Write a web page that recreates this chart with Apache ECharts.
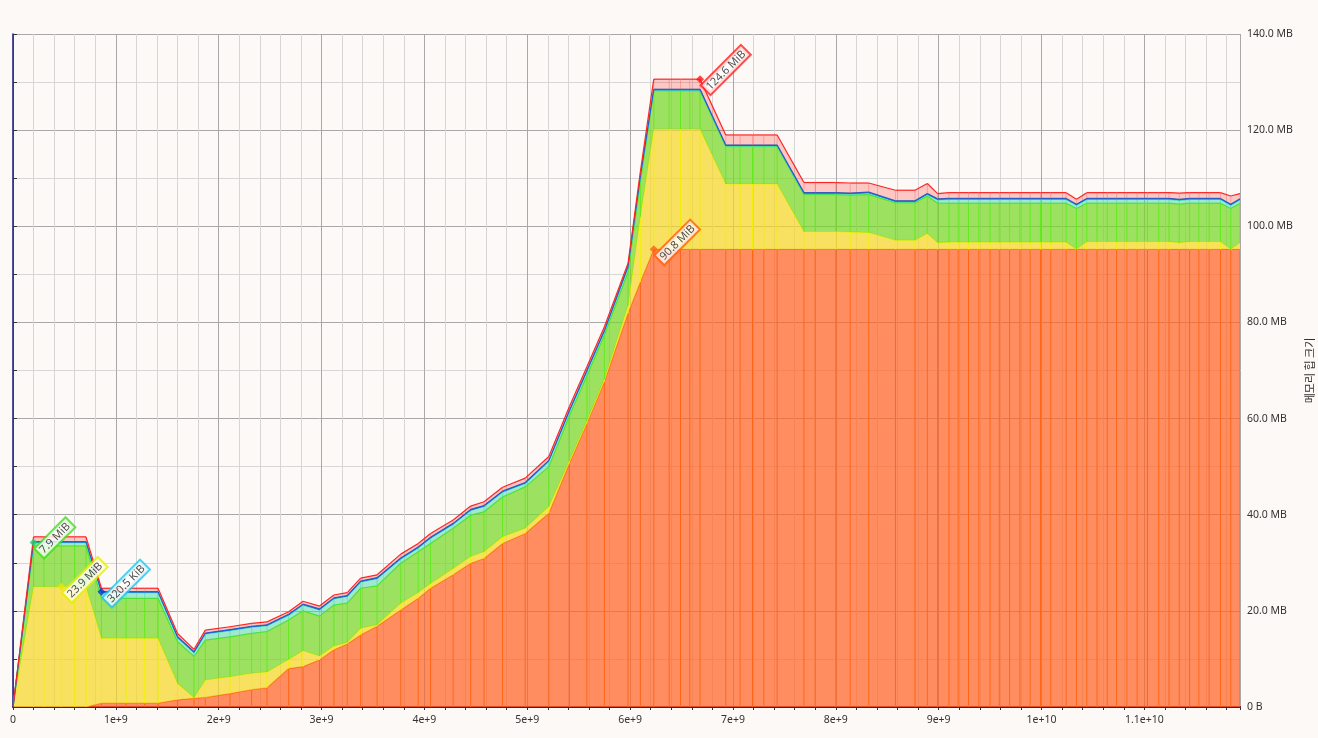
<!DOCTYPE html>
<html lang="ko">
<head>
<meta charset="UTF-8">
<title>메모리 힙 크기</title>
<script src="https://cdn.jsdelivr.net/npm/echarts@6/dist/echarts.min.js"></script>
<style>
  html, body { margin: 0; padding: 0; background: #fdf9f6; }
  #chartmain { width: 1318px; height: 738px; }
</style>
</head>
<body>
<div id="chartmain"></div>
<script>
// snapshot times (unit: 1e9 instructions)
var snapTimes = [0, 0.20, 0.30, 0.47, 0.60, 0.71, 0.86, 1.10, 1.28, 1.41,
    1.60, 1.76, 1.87, 2.11, 2.32, 2.47, 2.68, 2.82, 2.98, 3.12,
    3.25, 3.38, 3.54, 3.77, 3.94, 4.06, 4.28, 4.45, 4.58, 4.76,
    4.98, 5.21, 5.41, 5.58, 5.75, 5.98, 6.10, 6.23, 6.38, 6.49,
    6.58, 6.68, 6.93, 7.07, 7.19, 7.30, 7.43, 7.69, 7.80, 8.00,
    8.14, 8.32, 8.58, 8.77, 8.89, 8.99, 9.10, 9.19, 9.29, 9.39,
    9.50, 9.59, 9.69, 9.79, 9.89, 9.99, 10.09, 10.24, 10.34, 10.44,
    10.54, 10.64, 10.73, 10.83, 10.93, 11.03, 11.14, 11.24, 11.34, 11.44,
    11.53, 11.63, 11.74, 11.84, 11.93];

// heap size of each cost item per snapshot (MB), bottom to top
var orangeVals = [0, 0, 0, 0, 0, 0, 0.8, 0.8, 0.8, 0.8,
    1.5, 1.8, 2.0, 2.8, 3.6, 4.0, 8.0, 8.4, 9.8, 11.9,
    13.1, 15.0, 16.8, 20.2, 22.6, 24.7, 27.5, 29.9, 30.9, 34.0,
    36.1, 40.3, 50.7, 59.0, 67.7, 81.9, 88.4, 95.2, 95.2, 95.2,
    95.2, 95.2, 95.2, 95.2, 95.2, 95.2, 95.2, 95.2, 95.2, 95.2,
    95.2, 95.2, 95.2, 95.2, 95.2, 95.2, 95.2, 95.2, 95.2, 95.2,
    95.2, 95.2, 95.2, 95.2, 95.2, 95.2, 95.2, 95.2, 95.2, 95.2,
    95.2, 95.2, 95.2, 95.2, 95.2, 95.2, 95.2, 95.2, 95.2, 95.2,
    95.2, 95.2, 95.2, 95.2, 95.2];
var yellowVals = [0, 25.0, 25.0, 25.0, 25.0, 25.0, 13.5, 13.5, 13.5, 13.5,
    3.4, 0.1, 3.6, 3.5, 3.4, 3.3, 1.9, 3.3, 0.8, 0.8,
    0.3, 1.4, 0.3, 1.4, 1.2, 1.0, 1.3, 1.4, 1.4, 1.4,
    1.1, 1.4, 0.5, 0.5, 0.5, 1.6, 13.6, 25.0, 25.0, 25.0,
    25.0, 25.0, 13.6, 13.6, 13.6, 13.6, 13.6, 3.7, 3.7, 3.7,
    3.6, 3.5, 1.9, 1.9, 3.3, 1.4, 1.5, 1.5, 1.5, 1.5,
    1.5, 1.5, 1.5, 1.5, 1.5, 1.5, 1.5, 1.5, 0, 1.6,
    1.6, 1.6, 1.6, 1.6, 1.6, 1.6, 1.6, 1.6, 1.4, 1.6,
    1.6, 1.6, 1.6, 0, 1.4];
var greenVals = [0, 8.5, 8.5, 8.5, 8.5, 8.5, 8.3, 8.3, 8.3, 8.3,
    8.7, 8.6, 8.3, 8.3, 8.3, 8.4, 8.2, 8.3, 8.3, 8.5,
    8.2, 8.3, 8.1, 8.3, 8.5, 8.3, 8.4, 8.6, 8.3, 8.3,
    8.6, 8.3, 9.4, 9.4, 9.2, 7.0, 7.5, 8.0, 8.0, 8.0,
    8.0, 8.0, 7.8, 7.8, 7.8, 7.8, 7.8, 7.7, 7.7, 7.7,
    7.7, 7.9, 7.8, 7.8, 7.8, 8.2, 8.1, 8.1, 8.1, 8.1,
    8.1, 8.1, 8.1, 8.1, 8.1, 8.1, 8.1, 8.1, 8.5, 8.0,
    8.0, 8.0, 8.0, 8.0, 8.0, 8.0, 8.0, 8.0, 8.0, 8.0,
    8.0, 8.0, 8.0, 8.5, 8.2];
var cyanVals = [0, 0.7, 0.7, 0.7, 0.7, 0.7, 1.2, 1.2, 1.2, 1.2,
    0.8, 0.8, 1.3, 1.3, 1.3, 1.2, 1.0, 1.2, 1.3, 1.3,
    1.4, 1.3, 1.5, 0.9, 0.8, 1.1, 0.8, 1.0, 1.1, 1.0,
    0.7, 1.1, 0.9, 0.9, 0.7, 1.0, 0.8, 0.1, 0.1, 0.1,
    0.1, 0.1, 0.1, 0.1, 0.1, 0.1, 0.1, 0.2, 0.2, 0.2,
    0.2, 0.3, 0.2, 0.2, 0.3, 0.7, 0.8, 0.8, 0.8, 0.8,
    0.8, 0.8, 0.8, 0.8, 0.8, 0.8, 0.8, 0.8, 0.7, 0.8,
    0.8, 0.8, 0.8, 0.8, 0.8, 0.8, 0.8, 0.8, 0.8, 0.8,
    0.8, 0.8, 0.8, 0.7, 0.7];
var blueVals = [0, 0.2, 0.2, 0.2, 0.2, 0.2, 0.2, 0.2, 0.2, 0.2,
    0.2, 0.2, 0.2, 0.2, 0.2, 0.2, 0.2, 0.2, 0.2, 0.2,
    0.2, 0.2, 0.2, 0.2, 0.2, 0.2, 0.2, 0.2, 0.2, 0.2,
    0.2, 0.2, 0.2, 0.2, 0.2, 0.2, 0.2, 0.2, 0.2, 0.2,
    0.2, 0.2, 0.2, 0.2, 0.2, 0.2, 0.2, 0.2, 0.2, 0.2,
    0.2, 0.2, 0.2, 0.2, 0.2, 0.2, 0.2, 0.2, 0.2, 0.2,
    0.2, 0.2, 0.2, 0.2, 0.2, 0.2, 0.2, 0.2, 0.2, 0.2,
    0.2, 0.2, 0.2, 0.2, 0.2, 0.2, 0.2, 0.2, 0.2, 0.2,
    0.2, 0.2, 0.2, 0.2, 0.2];
var redVals = [0, 1.0, 1.0, 1.0, 1.0, 1.0, 0.7, 0.7, 0.7, 0.7,
    0.7, 0.5, 0.6, 0.6, 0.6, 0.6, 0.5, 0.6, 0.6, 0.6,
    0.6, 0.6, 0.6, 0.8, 0.7, 0.8, 0.7, 0.7, 0.8, 0.8,
    0.9, 0.8, 0.8, 0.8, 0.8, 0.6, 0.9, 2.1, 2.1, 2.1,
    2.1, 2.1, 2.1, 2.1, 2.1, 2.1, 2.1, 2.1, 2.1, 2.1,
    2.1, 1.9, 2.2, 2.2, 2.1, 1.1, 1.2, 1.2, 1.2, 1.2,
    1.2, 1.2, 1.2, 1.2, 1.2, 1.2, 1.2, 1.2, 1.0, 1.2,
    1.2, 1.2, 1.2, 1.2, 1.2, 1.2, 1.2, 1.2, 1.3, 1.2,
    1.2, 1.2, 1.2, 1.7, 1.1];

// peak markers: [time, stacked height, text]
var peakLabels = [
    [0.20, 34.2, '7.9 MiB'],
    [0.47, 25.0, '23.9 MiB'],
    [0.86, 24.0, '320.5 KiB'],
    [6.23, 95.2, '90.8 MiB'],
    [6.68, 130.6, '124.6 MiB']
];

var layers = [
    {vals: orangeVals, stroke: '#ff6414', vline: '#ff6414', fill: 'rgba(255,100,40,0.73)'},
    {vals: yellowVals, stroke: '#e8ee10', vline: 'rgba(240,240,0,0.9)', fill: 'rgba(245,215,40,0.73)'},
    {vals: greenVals, stroke: '#50e614', vline: 'rgba(90,235,20,0.9)', fill: 'rgba(120,215,40,0.73)'},
    {vals: cyanVals, stroke: '#40e2b4', vline: 'rgba(60,220,170,0.6)', fill: 'rgba(70,215,170,0.5)'},
    {vals: blueVals, stroke: '#1464dc', vline: 'rgba(20,100,220,0.5)', fill: '#1464dc'},
    {vals: redVals, stroke: '#ff2424', vline: 'rgba(255,60,60,0.3)', fill: 'rgba(255,0,0,0.2)'}
];
var markColors = [
    {dot: '#20d070', border: '#44e020'},
    {dot: '#e8e800', border: '#e4f000'},
    {dot: '#1038d0', border: '#22c4f0'},
    {dot: '#ff6010', border: '#ff6010'},
    {dot: '#ff1818', border: '#ff2020'}
];

var series = [];
var base = snapTimes.map(function () { return 0; });
var lastSeg = snapTimes.length - 2;
layers.forEach(function (layer) {
    var top = base.map(function (b, i) { return b + layer.vals[i]; });
    var segs = [];
    for (var i = 0; i < snapTimes.length - 1; i++) {
        segs.push([snapTimes[i], snapTimes[i + 1], base[i], top[i], base[i + 1], top[i + 1], i]);
    }
    series.push({
        type: 'custom',
        clip: true,
        silent: true,
        encode: {x: [0, 1], y: [2, 3, 4, 5]},
        data: segs,
        renderItem: function (params, api) {
            var p0 = api.coord([api.value(0), api.value(2)]);
            var p1 = api.coord([api.value(0), api.value(3)]);
            var p2 = api.coord([api.value(1), api.value(5)]);
            var p3 = api.coord([api.value(1), api.value(4)]);
            var kids = [
                {type: 'polygon', shape: {points: [p0, p1, p2, p3]}, style: {fill: layer.fill}},
                {type: 'line', shape: {x1: p0[0], y1: p0[1], x2: p1[0], y2: p1[1]},
                    style: {stroke: layer.vline, lineWidth: 1}},
                {type: 'line', shape: {x1: p1[0], y1: p1[1], x2: p2[0], y2: p2[1]},
                    style: {stroke: layer.stroke, lineWidth: 1.2}}
            ];
            if (api.value(6) === lastSeg) {
                kids.push({type: 'line', shape: {x1: p3[0], y1: p3[1], x2: p2[0], y2: p2[1]},
                    style: {stroke: layer.vline, lineWidth: 1}});
            }
            return {type: 'group', children: kids};
        }
    });
    base = top;
});

peakLabels.forEach(function (p, k) {
    series.push({
        type: 'scatter',
        symbol: 'diamond',
        symbolSize: 8,
        silent: true,
        z: 10,
        itemStyle: {color: markColors[k].dot},
        data: [[p[0], p[1]]],
        label: {
            show: true,
            formatter: p[2],
            position: [6, 10],
            align: 'left',
            verticalAlign: 'top',
            rotate: 45,
            color: '#222',
            fontSize: 11,
            fontFamily: "'Noto Sans', sans-serif",
            backgroundColor: '#ffffff',
            borderColor: markColors[k].border,
            borderWidth: 2,
            padding: [1, 2, 0, 2]
        }
    });
});

var option = {
    backgroundColor: '#fdf9f6',
    animation: false,
    textStyle: {fontFamily: "'Noto Sans', 'Noto Sans CJK KR', sans-serif"},
    grid: {left: 13, right: 78, top: 34, bottom: 31, containLabel: false, outerBoundsMode: 'none'},
    xAxis: {
        type: 'value',
        min: 0,
        max: 11.93,
        interval: 1,
        axisLine: {show: true, lineStyle: {color: '#7a0a28', width: 2}},
        axisTick: {show: true, length: 3, lineStyle: {color: '#333'}},
        minorTick: {show: true, splitNumber: 5, length: 3, lineStyle: {color: '#333'}},
        axisLabel: {
            color: '#333', fontSize: 10.5, margin: 8, showMaxLabel: false,
            formatter: function (v) {
                if (v === 0) return '0';
                if (v >= 10) return (Math.round(v) / 10) + 'e+10';
                return Math.round(v) + 'e+9';
            }
        },
        splitLine: {show: true, lineStyle: {color: '#a8a8a8'}},
        minorSplitLine: {show: true, lineStyle: {color: '#d6d6d6'}}
    },
    yAxis: [{
        type: 'value',
        position: 'right',
        min: 0,
        max: 140,
        interval: 20,
        name: '메모리 힙 크기',
        nameLocation: 'middle',
        nameGap: 59,
        nameRotate: 90,
        nameTextStyle: {color: '#333', fontSize: 11, fontFamily: "'Noto Sans CJK KR', sans-serif"},
        axisLine: {show: false},
        axisTick: {show: true, length: 4, lineStyle: {color: '#333'}},
        minorTick: {show: true, splitNumber: 2, length: 4, lineStyle: {color: '#333'}},
        axisLabel: {
            color: '#333', fontSize: 10.5, margin: 7,
            formatter: function (v) { return v === 0 ? '0 B' : v.toFixed(1) + ' MB'; }
        },
        splitLine: {show: true, lineStyle: {color: '#a8a8a8'}},
        minorSplitLine: {show: true, lineStyle: {color: '#d6d6d6'}}
    }, {
        type: 'value',
        position: 'left',
        min: 0,
        max: 140,
        axisLine: {show: true, lineStyle: {color: '#14147a', width: 1.5}},
        axisTick: {show: false},
        axisLabel: {show: false},
        splitLine: {show: false}
    }],
    series: series
};

var myChart = echarts.init(document.getElementById('chartmain'));
myChart.setOption(option);
</script>
</body>
</html>
